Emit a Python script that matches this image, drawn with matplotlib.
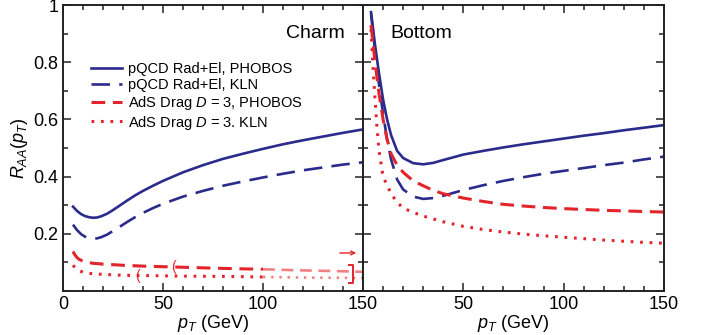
import matplotlib
matplotlib.use("Agg")
import matplotlib.pyplot as plt
from matplotlib.ticker import MultipleLocator, FixedLocator

plt.rcParams['font.family'] = ['Liberation Sans', 'DejaVu Sans']
plt.rcParams['mathtext.fontset'] = 'custom'
plt.rcParams['mathtext.rm'] = 'Liberation Sans'
plt.rcParams['mathtext.it'] = 'Liberation Sans:italic'

# ---------------- data ----------------
charm_pt = [5, 7, 9, 11, 13, 15, 17, 19, 22, 25, 28, 32, 36, 40, 45, 50, 60, 70, 80, 90,
            100, 110, 120, 130, 140, 150]
charm_pqcd_phobos = [0.295, 0.28, 0.269, 0.262, 0.258, 0.256, 0.257, 0.261, 0.27, 0.283,
                     0.297, 0.316, 0.334, 0.35, 0.368, 0.385, 0.415, 0.44, 0.462, 0.48,
                     0.497, 0.513, 0.527, 0.54, 0.553, 0.565]
charm_pqcd_kln = [0.232, 0.213, 0.199, 0.19, 0.185, 0.183, 0.184, 0.188, 0.197, 0.21,
                  0.223, 0.241, 0.258, 0.273, 0.29, 0.305, 0.33, 0.35, 0.368, 0.383,
                  0.397, 0.41, 0.422, 0.432, 0.442, 0.45]

charm_ads_pt = [5, 6, 7, 8, 10, 12, 15, 20, 30, 40, 50, 60, 80, 100, 110, 120, 140, 150]
charm_ads_phobos = [0.138, 0.126, 0.117, 0.111, 0.104, 0.1, 0.097, 0.094, 0.09, 0.087,
                    0.085, 0.083, 0.079, 0.076, 0.074, 0.072, 0.069, 0.067]
charm_ads_kln = [0.09, 0.082, 0.076, 0.071, 0.066, 0.063, 0.06, 0.058, 0.055, 0.054,
                 0.053, 0.052, 0.051, 0.049, 0.048, 0.047, 0.046, 0.045]

bottom_pt = [4, 6, 8, 10, 12, 14, 17, 20, 25, 30, 35, 40, 50, 60, 70, 80, 90, 100,
             110, 120, 130, 140, 150]
bottom_pqcd_phobos = [0.975, 0.86, 0.76, 0.67, 0.60, 0.545, 0.49, 0.465, 0.447, 0.443, 0.448,
                      0.458, 0.477, 0.49, 0.502, 0.513, 0.523, 0.533, 0.543, 0.552, 0.562,
                      0.571, 0.58]
bottom_pqcd_kln = [0.97, 0.84, 0.72, 0.62, 0.53, 0.46, 0.39, 0.355, 0.33, 0.322, 0.325,
                   0.333, 0.353, 0.37, 0.385, 0.398, 0.41, 0.42, 0.43, 0.44, 0.449, 0.46, 0.47]
bottom_ads_phobos = [0.93, 0.8, 0.69, 0.6, 0.53, 0.48, 0.44, 0.415, 0.385, 0.368, 0.352,
                     0.34, 0.325, 0.313, 0.303, 0.297, 0.292, 0.288, 0.285, 0.282, 0.28,
                     0.278, 0.276]
bottom_dot_pt = [4, 5, 6, 7, 8, 10, 12, 14, 17, 20, 25, 30, 40, 50, 60, 70, 80, 90, 100,
                 110, 120, 130, 140, 150]
bottom_ads_kln = [0.915, 0.78, 0.67, 0.57, 0.49, 0.40, 0.37, 0.34, 0.31, 0.29, 0.275, 0.262,
                  0.242, 0.226, 0.215, 0.206, 0.199, 0.193, 0.188, 0.183, 0.178, 0.174,
                  0.17, 0.167]

labels = ["pQCD Rad+El, PHOBOS", "pQCD Rad+El, KLN",
          "AdS Drag $D$ = 3, PHOBOS", "AdS Drag $D$ = 3. KLN"]
panel_titles = ["Charm", "Bottom"]

# ---------------- styles ----------------
BLUE = '#2b2b8c'
RED = '#e3242b'
LIGHTRED = '#f28080'
sty_solid = dict(color=BLUE, lw=1.9, linestyle='-')
sty_bdash = dict(color=BLUE, lw=1.9, linestyle=(0, (7, 3.5)))
sty_rdash = dict(color=RED, lw=2.2, linestyle=(0, (4.5, 2.5)))
sty_rdot = dict(color=RED, lw=2.2, linestyle=(0, (0.9, 2.2)))

fig = plt.figure(figsize=(7.02, 3.35), dpi=100)
axL = fig.add_axes([63/702, 44/335, 300/702, 286/335])
axR = fig.add_axes([363/702, 44/335, 301/702, 286/335])

for ax in (axL, axR):
    ax.set_xlim(0, 150)
    ax.set_ylim(0, 1)
    ax.xaxis.set_major_locator(MultipleLocator(50))
    ax.xaxis.set_minor_locator(MultipleLocator(10))
    ax.yaxis.set_major_locator(MultipleLocator(0.2))
    ax.yaxis.set_minor_locator(MultipleLocator(0.1))
    ax.tick_params(which='both', direction='in', top=True, right=True,
                   labelsize=13, width=1.1, color='#222222')
    ax.tick_params(which='major', length=6)
    ax.tick_params(which='minor', length=3.5)
    for s in ax.spines.values():
        s.set_linewidth(1.4)
        s.set_color('#222222')
    ax.set_xlabel('$p_T$ (GeV)', fontsize=13, labelpad=0)

axL.yaxis.set_major_locator(FixedLocator([0.2, 0.4, 0.6, 0.8, 1.0]))
axL.set_yticklabels(['0.2', '0.4', '0.6', '0.8', '1'])
axL.set_xticks([0, 50, 100, 150])
axL.set_ylabel('$R_{AA}(p_T)$', fontsize=13, labelpad=2)
axR.set_xticks([50, 100, 150])
axR.tick_params(labelleft=False)

# Charm panel
axL.plot(charm_pt, charm_pqcd_phobos, label=labels[0], **sty_solid)
axL.plot(charm_pt, charm_pqcd_kln, label=labels[1], **sty_bdash)
cut = 14  # index where lighter drawing starts
axL.plot(charm_ads_pt[:cut], charm_ads_phobos[:cut], label=labels[2], **sty_rdash)
axL.plot(charm_ads_pt[:cut], charm_ads_kln[:cut], label=labels[3], **sty_rdot)
d2 = dict(sty_rdash); d2['color'] = LIGHTRED; d2['lw'] = 1.9
axL.plot(charm_ads_pt[cut-1:], charm_ads_phobos[cut-1:], **d2)
o2 = dict(sty_rdot); o2['color'] = LIGHTRED; o2['lw'] = 1.9
axL.plot(charm_ads_pt[cut-1:], charm_ads_kln[cut-1:], **o2)

# range markers
axL.text(55, 0.084, '(', color=RED, fontsize=10, ha='center', va='center')
axL.text(37, 0.054, '(', color=RED, fontsize=10, ha='center', va='center')
axL.plot([143, 145, 145, 143], [0.09, 0.09, 0.028, 0.028], color=RED, lw=1.4)
axL.annotate('', xy=(148, 0.133), xytext=(137, 0.133),
             arrowprops=dict(arrowstyle='->', color=RED, lw=1.0, mutation_scale=7))

axL.legend(loc='upper left', bbox_to_anchor=(0.075, 0.82), frameon=False, fontsize=10.5,
           handlelength=2.1, handletextpad=0.4, labelspacing=0.12, borderaxespad=0)
axL.text(0.94, 0.90, panel_titles[0], transform=axL.transAxes, fontsize=14,
         ha='right', va='center')

# Bottom panel
axR.plot(bottom_pt, bottom_pqcd_phobos, **sty_solid)
axR.plot(bottom_pt, bottom_pqcd_kln, **sty_bdash)
axR.plot(bottom_pt, bottom_ads_phobos, **sty_rdash)
axR.plot(bottom_dot_pt, bottom_ads_kln, **sty_rdot)
axR.text(0.09, 0.90, panel_titles[1], transform=axR.transAxes, fontsize=14,
         ha='left', va='center')

fig.savefig('out.png', dpi=100)
